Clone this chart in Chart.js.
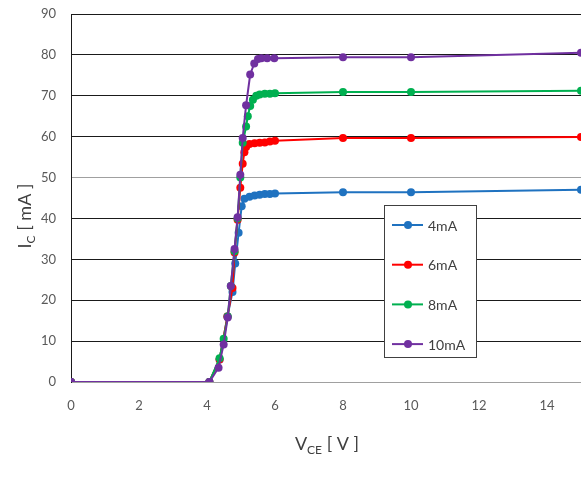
<!DOCTYPE html>
<html>
<head>
<meta charset="utf-8">
<script src="https://cdn.jsdelivr.net/npm/chart.js@4.4.1/dist/chart.umd.min.js"></script>
<style>
	html, body { margin: 0; padding: 0; background: #fff; }
	#wrap { width: 585px; height: 491px; position: relative; }
</style>
</head>
<body>
<div id="wrap"><canvas id="icChart" width="585" height="491"></canvas></div>
<script>
// Collector current vs collector-emitter voltage, one curve per base current.
var seriesLabels = ['4mA', '6mA', '8mA', '10mA'];
var seriesColors = ['#1f72c0', '#ff0000', '#00b050', '#7030a0'];

var vce4 = [0, 4.07, 4.37, 4.6, 4.75, 4.83, 4.93, 5.02, 5.1, 5.25, 5.4, 5.55, 5.7, 5.85, 6.0, 8, 10, 15];
var ic4 = [0, 0, 5.5, 16, 22, 29, 36.5, 43, 44.8, 45.3, 45.6, 45.8, 46, 46, 46.1, 46.4, 46.4, 47];

var vce6 = [0, 4.07, 4.37, 4.6, 4.75, 4.81, 4.9, 4.98, 5.05, 5.1, 5.15, 5.25, 5.4, 5.55, 5.7, 5.85, 6.0, 8, 10, 15];
var ic6 = [0, 0, 5.5, 16, 23, 31.7, 39.7, 47.5, 53.4, 56.2, 57.5, 58.2, 58.4, 58.5, 58.6, 58.8, 59, 59.7, 59.7, 59.9];

var vce8 = [0, 4.07, 4.37, 4.49, 4.61, 4.7, 4.81, 4.9, 4.98, 5.05, 5.15, 5.2, 5.27, 5.35, 5.45, 5.55, 5.7, 5.85, 6.0, 8, 10, 15];
var ic8 = [0, 0, 5.8, 10.6, 16, 23.5, 32, 40, 50, 58.5, 62.5, 65, 67.5, 69, 70, 70.3, 70.5, 70.5, 70.6, 70.9, 70.9, 71.2];

var vce10 = [0, 4.07, 4.34, 4.49, 4.61, 4.7, 4.81, 4.9, 4.98, 5.05, 5.15, 5.27, 5.39, 5.5, 5.6, 5.77, 5.98, 8, 10, 15];
var ic10 = [0, 0, 3.5, 9.2, 15.8, 23.5, 32.5, 40.3, 50.7, 59.7, 67.7, 75.2, 77.9, 79, 79.2, 79.2, 79.2, 79.4, 79.4, 80.5];

var xTicks = [0, 2, 4, 6, 8, 10, 12, 14];
var yTicks = [0, 10, 20, 30, 40, 50, 60, 70, 80, 90];

var FONT = 'Lato, "Open Sans", sans-serif';

function toPoints(xs, ys) {
	return xs.map(function(x, i) { return { x: x, y: ys[i] }; });
}

var allX = [vce4, vce6, vce8, vce10];
var allY = [ic4, ic6, ic8, ic10];

var datasets = seriesLabels.map(function(label, i) {
	return {
		label: label,
		data: toPoints(allX[i], allY[i]),
		showLine: true,
		borderColor: seriesColors[i],
		backgroundColor: seriesColors[i],
		borderWidth: 2,
		pointRadius: 4,
		pointBorderWidth: 0,
		tension: 0,
		order: seriesLabels.length - i // later series on top, like Excel
	};
});

// Legend box drawn inside the plot, Excel style.
var insideLegend = {
	id: 'insideLegend',
	afterDraw: function(chart) {
		var ctx = chart.ctx;
		var box = { left: 384, top: 205, width: 92, height: 152 };
		ctx.save();
		ctx.fillStyle = '#fff';
		ctx.fillRect(box.left, box.top, box.width, box.height);
		ctx.strokeStyle = '#404040';
		ctx.lineWidth = 1;
		ctx.strokeRect(box.left + 0.5, box.top + 0.5, box.width, box.height);
		ctx.font = '14px ' + FONT;
		ctx.textBaseline = 'middle';
		ctx.textAlign = 'left';
		chart.data.datasets.forEach(function(ds, i) {
			var y = box.top + 20 + i * 39.7;
			ctx.strokeStyle = ds.borderColor;
			ctx.lineWidth = 2;
			ctx.beginPath();
			ctx.moveTo(392, y);
			ctx.lineTo(423, y);
			ctx.stroke();
			ctx.fillStyle = ds.borderColor;
			ctx.beginPath();
			ctx.arc(408, y, 4, 0, Math.PI * 2);
			ctx.fill();
			ctx.fillStyle = '#404040';
			ctx.fillText(ds.label, 428, y + 1);
		});
		ctx.restore();
	}
};

// Axis titles with subscripts.
function drawRich(ctx, parts, cx, cy) {
	var total = 0;
	parts.forEach(function(p) {
		ctx.font = p.size + 'px ' + FONT;
		p.w = ctx.measureText(p.t).width;
		total += p.w;
	});
	var x = cx - total / 2;
	parts.forEach(function(p) {
		ctx.font = p.size + 'px ' + FONT;
		ctx.fillText(p.t, x, cy + (p.dy || 0));
		x += p.w;
	});
}

var axisTitles = {
	id: 'axisTitles',
	afterDraw: function(chart) {
		var ctx = chart.ctx;
		ctx.save();
		ctx.fillStyle = '#404040';
		ctx.textBaseline = 'alphabetic';
		ctx.textAlign = 'left';
		drawRich(ctx, [
			{ t: 'V', size: 18 },
			{ t: 'CE', size: 12, dy: 4 },
			{ t: ' [ V ]', size: 18 }
		], 327, 450);
		ctx.translate(31, 216);
		ctx.rotate(-Math.PI / 2);
		drawRich(ctx, [
			{ t: 'I', size: 18 },
			{ t: 'C', size: 12, dy: 4 },
			{ t: ' [ mA ]', size: 18 }
		], 0, 0);
		ctx.restore();
	}
};

new Chart(document.getElementById('icChart'), {
	type: 'scatter',
	data: { datasets: datasets },
	options: {
		responsive: false,
		animation: false,
		devicePixelRatio: 1,
		layout: { padding: { top: 14, right: 2, left: 0, bottom: 0 } },
		plugins: {
			legend: { display: false },
			tooltip: { enabled: false }
		},
		scales: {
			x: {
				type: 'linear',
				min: 0,
				max: 15,
				afterBuildTicks: function(scale) {
					scale.ticks = xTicks.map(function(v) { return { value: v }; });
				},
				afterFit: function(scale) { scale.height = 109; },
				grid: { display: false, drawTicks: false },
				border: { display: false },
				ticks: {
					padding: 16,
					color: '#595959',
					font: { family: FONT, size: 13 }
				}
			},
			y: {
				type: 'linear',
				min: 0,
				max: 90,
				afterBuildTicks: function(scale) {
					scale.ticks = yTicks.map(function(v) { return { value: v }; });
				},
				afterFit: function(scale) {
					scale.width = 71;
					scale.paddingTop = 0;
					scale.paddingBottom = 0;
				},
				grid: {
					drawTicks: false,
					lineWidth: 1,
					color: function(c) {
						var v = c.tick ? c.tick.value : 0;
						return (v === 0 || v === 50) ? '#a0a0a0' : '#1a1a1a';
					}
				},
				border: { display: true, color: '#1a1a1a', width: 1 },
				ticks: {
					padding: 15,
					color: '#595959',
					font: { family: FONT, size: 13 }
				}
			}
		}
	},
	plugins: [insideLegend, axisTitles]
});
</script>
</body>
</html>
